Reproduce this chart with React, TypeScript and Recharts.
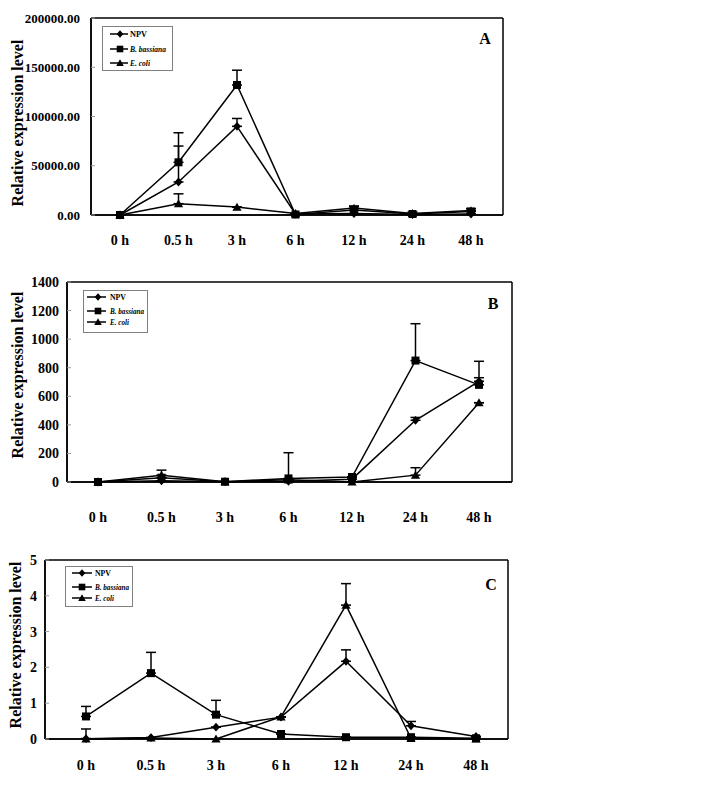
import React from 'react';
import { LineChart, Line, XAxis, YAxis, ErrorBar, Legend, CartesianGrid } from 'recharts';

const FONT = "'Liberation Serif', 'Times New Roman', serif";

const times = ['0 h', '0.5 h', '3 h', '6 h', '12 h', '24 h', '48 h'];
const seriesNames = ['NPV', 'B. bassiana', 'E. coli'];

// Panel A
const aNpv = [0, 33500, 90000, 1000, 1500, 500, 1000];
const aNpvErr = [0, 36500, 8000, 0, 0, 0, 0];
const aBb = [0, 53500, 132000, 500, 5000, 1000, 3500];
const aBbErr = [0, 30000, 15000, 0, 4000, 0, 3000];
const aEc = [0, 11500, 8000, 1500, 7000, 1500, 4500];
const aEcErr = [0, 10000, 0, 0, 2000, 1500, 2000];
const aTicks = [0, 50000, 100000, 150000, 200000];

// Panel B
const bNpv = [0, 8, 2, 5, 20, 432, 705];
const bNpvErr = [0, 0, 0, 0, 0, 20, 25];
const bBb = [0, 30, 2, 25, 35, 850, 680];
const bBbErr = [0, 0, 0, 180, 0, 258, 165];
const bEc = [0, 48, 2, 15, 0, 48, 555];
const bEcErr = [0, 35, 0, 0, 0, 52, 0];
const bTicks = [0, 200, 400, 600, 800, 1000, 1200, 1400];

// Panel C
const cNpv = [0.01, 0.04, 0.33, 0.61, 2.17, 0.37, 0.07];
const cNpvErr = [0, 0, 0, 0, 0.32, 0.12, 0];
const cBb = [0.63, 1.84, 0.68, 0.14, 0.05, 0.05, 0.02];
const cBbErr = [0.28, 0.58, 0.4, 0, 0, 0, 0];
const cEc = [0, 0.03, 0, 0.62, 3.74, 0.02, 0];
const cEcErr = [0.28, 0, 0, 0, 0.6, 0, 0];
const cTicks = [0, 1, 2, 3, 4, 5];

function buildRows(npv: number[], npvE: number[], bb: number[], bbE: number[], ec: number[], ecE: number[]) {
  return times.map((t, i) => ({
    t,
    npv: npv[i],
    npvE: [0, npvE[i]],
    bb: bb[i],
    bbE: [0, bbE[i]],
    ec: ec[i],
    ecE: [0, ecE[i]],
  }));
}

const diamondShape = (cx: number, cy: number, s: number, key?: string) => (
  <polygon key={key} points={`${cx},${cy - s * 1.1} ${cx + s},${cy} ${cx},${cy + s * 1.1} ${cx - s},${cy}`} fill="#000" />
);
const squareShape = (cx: number, cy: number, s: number, key?: string) => (
  <rect key={key} x={cx - s} y={cy - s} width={s * 2} height={s * 2} fill="#000" />
);
const triangleShape = (cx: number, cy: number, s: number, key?: string) => (
  <polygon key={key} points={`${cx},${cy - s * 1.1} ${cx + s * 1.15},${cy + s * 0.9} ${cx - s * 1.15},${cy + s * 0.9}`} fill="#000" />
);
const shapes = [diamondShape, squareShape, triangleShape];
const keys = ['npv', 'bb', 'ec'];

type LegendCfg = { x: number; y: number; w: number; h: number; rows: number[]; lx1: number; lx2: number; mx: number; tx: number; tw: number[] };

function LegendBox({ cfg }: { cfg: LegendCfg }) {
  return (
    <svg width={cfg.w + 30} height={cfg.h} style={{ display: 'block', overflow: 'visible' }}>
      <rect x={0.5} y={0.5} width={cfg.w - 1} height={cfg.h - 1} fill="#fff" stroke="#808080" strokeWidth={1} />
      {seriesNames.map((name, i) => (
        <g key={name}>
          <line x1={cfg.lx1} x2={cfg.lx2} y1={cfg.rows[i]} y2={cfg.rows[i]} stroke="#000" strokeWidth={1.5} />
          {shapes[i](cfg.mx, cfg.rows[i], 3.3)}
          <text
            x={cfg.tx}
            y={cfg.rows[i]}
            dy="0.35em"
            fontSize={8.5}
            fontWeight="bold"
            fontStyle={i === 0 ? 'normal' : 'italic'}
            fontFamily={FONT}
            fill="#000"
            textLength={cfg.tw[i]}
            lengthAdjust="spacingAndGlyphs"
          >
            {name}
          </text>
        </g>
      ))}
    </svg>
  );
}

type PanelCfg = {
  letter: string;
  rows: any[];
  chartTop: number;
  height: number;
  plotLeft: number;
  plotRight: number;
  plotTop: number;
  plotBottom: number;
  padL: number;
  padR: number;
  xTickMargin: number;
  yGap: number;
  yFont: number;
  yMax: number;
  ticks: number[];
  fmt: (v: number) => string;
  labelX: number;
  labelCy: number;
  letterX: number;
  letterY: number;
  legend: LegendCfg;
};

function Panel({ cfg }: { cfg: PanelCfg }) {
  const xAxisH = 30;
  const top = cfg.plotTop - cfg.chartTop;
  const bottom = cfg.plotBottom - cfg.chartTop;
  const margin = {
    top,
    right: 714 - cfg.plotRight,
    left: 0,
    bottom: cfg.height - bottom - xAxisH,
  };
  const yTick = (p: any) => (
    <g>
      <line x1={cfg.plotLeft} x2={cfg.plotLeft + 4} y1={p.y} y2={p.y} stroke="#9a9a9a" strokeWidth={1} />
      <text x={p.x} y={p.y} dy="0.36em" textAnchor="end" fontSize={cfg.yFont} fontWeight="bold" fontFamily={FONT} fill="#000">
        {cfg.fmt(p.payload.value)}
      </text>
    </g>
  );
  const yLabel = () => (
    <g>
      <text
        x={cfg.labelX}
        y={cfg.labelCy - cfg.chartTop}
        transform={`rotate(-90 ${cfg.labelX} ${cfg.labelCy - cfg.chartTop})`}
        textAnchor="middle"
        dy="0.35em"
        fontSize={16}
        fontWeight="bold"
        fontFamily={FONT}
        fill="#000"
      >
        Relative expression level
      </text>
      <text
        x={cfg.letterX}
        y={cfg.letterY - cfg.chartTop}
        textAnchor="middle"
        dy="0.35em"
        fontSize={16}
        fontWeight="bold"
        fontFamily={FONT}
        fill="#000"
      >
        {cfg.letter}
      </text>
    </g>
  );
  return (
    <div style={{ position: 'absolute', left: 0, top: cfg.chartTop, width: 714, height: cfg.height }}>
      <LineChart width={714} height={cfg.height} data={cfg.rows} margin={margin}>
        <CartesianGrid
          stroke="#000"
          strokeWidth={1.5}
          horizontalPoints={[top, bottom]}
          verticalPoints={[cfg.plotLeft, cfg.plotRight]}
        />
        <XAxis
          dataKey="t"
          padding={{ left: cfg.padL, right: cfg.padR }}
          tickLine={false}
          tickSize={0}
          tickMargin={cfg.xTickMargin}
          height={xAxisH}
          interval={0}
          axisLine={{ stroke: '#000', strokeWidth: 1.5 }}
          tick={{ fill: '#000', fontSize: 14, fontWeight: 'bold', fontFamily: FONT }}
        />
        <YAxis
          type="number"
          domain={[0, cfg.yMax]}
          ticks={cfg.ticks}
          width={cfg.plotLeft}
          tickLine={false}
          tickSize={0}
          tickMargin={cfg.yGap}
          interval={0}
          axisLine={{ stroke: '#000', strokeWidth: 1.5 }}
          tick={yTick}
          label={yLabel}
        />
        <Legend
          layout="vertical"
          align="center"
          verticalAlign="middle"
          content={() => <LegendBox cfg={cfg.legend} />}
          wrapperStyle={{ left: cfg.legend.x, top: cfg.legend.y - cfg.chartTop, width: cfg.legend.w + 30, height: cfg.legend.h, margin: 0 }}
        />
        {keys.map((k, i) => (
          <Line
            key={k}
            dataKey={k}
            name={seriesNames[i]}
            stroke="#000"
            strokeWidth={1.5}
            isAnimationActive={false}
            activeDot={false}
            dot={(p: any) => (p.cx == null ? <g key={`${k}${p.index}`} /> : shapes[i](p.cx, p.cy, 4, `${k}${p.index}`))}
          >
            <ErrorBar dataKey={`${k}E`} direction="y" width={5} stroke="#000" strokeWidth={1.5} isAnimationActive={false} />
          </Line>
        ))}
      </LineChart>
    </div>
  );
}

const panels: PanelCfg[] = [
  {
    letter: 'A',
    rows: buildRows(aNpv, aNpvErr, aBb, aBbErr, aEc, aEcErr),
    chartTop: 0,
    height: 258,
    plotLeft: 91,
    plotRight: 503,
    plotTop: 18,
    plotBottom: 215,
    padL: 29,
    padR: 32,
    xTickMargin: 20,
    yGap: 11,
    yFont: 13,
    yMax: 200000,
    ticks: aTicks,
    fmt: (v: number) => v.toFixed(2),
    labelX: 17,
    labelCy: 123,
    letterX: 485,
    letterY: 38,
    legend: { x: 102, y: 26, w: 71, h: 45, rows: [8, 23, 37], lx1: 8, lx2: 26, mx: 18, tx: 28, tw: [17, 36, 20] },
  },
  {
    letter: 'B',
    rows: buildRows(bNpv, bNpvErr, bBb, bBbErr, bEc, bEcErr),
    chartTop: 258,
    height: 277,
    plotLeft: 67,
    plotRight: 512,
    plotTop: 282,
    plotBottom: 482,
    padL: 31,
    padR: 33,
    xTickMargin: 30,
    yGap: 8,
    yFont: 14,
    yMax: 1400,
    ticks: bTicks,
    fmt: (v: number) => String(v),
    labelX: 17,
    labelCy: 375,
    letterX: 493,
    letterY: 303,
    legend: { x: 83, y: 290, w: 65, h: 43, rows: [7, 21, 32], lx1: 4, lx2: 23, mx: 15, tx: 27, tw: [16, 34, 19] },
  },
  {
    letter: 'C',
    rows: buildRows(cNpv, cNpvErr, cBb, cBbErr, cEc, cEcErr),
    chartTop: 535,
    height: 252,
    plotLeft: 45,
    plotRight: 508,
    plotTop: 560,
    plotBottom: 739,
    padL: 41,
    padR: 32,
    xTickMargin: 21,
    yGap: 8,
    yFont: 14,
    yMax: 5,
    ticks: cTicks,
    fmt: (v: number) => String(v),
    labelX: 15,
    labelCy: 645,
    letterX: 491,
    letterY: 584,
    legend: { x: 65, y: 566, w: 68, h: 41, rows: [7, 21, 32], lx1: 7, lx2: 27, mx: 17, tx: 30, tw: [16, 34, 19] },
  },
];

export default function App() {
  return (
    <div style={{ position: 'absolute', left: 0, top: 0, width: 714, height: 787, background: '#fff', fontFamily: FONT }}>
      {panels.map((p) => (
        <Panel key={p.letter} cfg={p} />
      ))}
    </div>
  );
}
